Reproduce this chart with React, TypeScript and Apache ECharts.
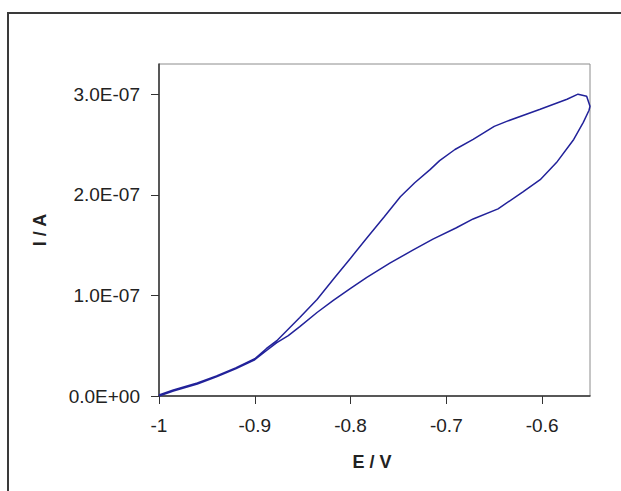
import React, { useEffect, useRef } from "react";
import * as echarts from "echarts";

// Forward sweep (lower branch), potential in V, current in units of 1e-7 A
const forwardE = [-1.0, -0.985, -0.96, -0.94, -0.92, -0.9, -0.888, -0.877, -0.865, -0.853, -0.835, -0.818, -0.8, -0.783, -0.759, -0.735, -0.714, -0.69, -0.672, -0.646, -0.62, -0.602, -0.585, -0.567, -0.557, -0.551, -0.55];
const forwardI = [0.0, 0.05, 0.12, 0.19, 0.27, 0.36, 0.45, 0.53, 0.6, 0.69, 0.83, 0.95, 1.07, 1.18, 1.32, 1.45, 1.56, 1.67, 1.76, 1.86, 2.03, 2.15, 2.32, 2.55, 2.72, 2.84, 2.88];
// Reverse sweep (upper branch)
const reverseE = [-0.5535, -0.5625, -0.574, -0.602, -0.637, -0.65, -0.672, -0.691, -0.707, -0.717, -0.733, -0.748, -0.765, -0.783, -0.8, -0.818, -0.835, -0.853, -0.877, -0.888, -0.9, -0.92, -0.94, -0.96, -0.985, -1.0];
const reverseI = [2.98, 3.0, 2.95, 2.85, 2.73, 2.68, 2.55, 2.45, 2.34, 2.25, 2.12, 1.98, 1.78, 1.57, 1.37, 1.16, 0.96, 0.78, 0.55, 0.47, 0.37, 0.28, 0.2, 0.13, 0.06, 0.01];

const xTicks = [-1, -0.9, -0.8, -0.7, -0.6];
const yTicks = [0, 1e-7, 2e-7, 3e-7];
const xTitle = "E / V";
const yTitle = "I / A";

export default function App() {
  const ref = useRef<HTMLDivElement>(null);
  useEffect(() => {
    if (!ref.current) return;
    const chart = echarts.init(ref.current, null, { renderer: "svg" });
    const data: number[][] = [];
    forwardE.forEach((e, i) => data.push([e, forwardI[i] * 1e-7]));
    reverseE.forEach((e, i) => data.push([e, reverseI[i] * 1e-7]));
    const font = "'Liberation Sans', Arial, sans-serif";
    chart.setOption({
      animation: false,
      backgroundColor: "#ffffff",
      grid: {
        left: 159,
        top: 64,
        width: 431,
        height: 332,
        show: true,
        borderColor: "#8c8c8c",
        borderWidth: 1,
        backgroundColor: "transparent",
      },
      xAxis: {
        type: "value",
        min: -1,
        max: -0.55,
        splitLine: { show: false },
        axisLine: { lineStyle: { color: "#333333", width: 1.5 } },
        axisTick: { show: true, length: 8, inside: false, customValues: xTicks, lineStyle: { color: "#333333" } },
        axisLabel: {
          customValues: xTicks,
          margin: 20,
          color: "#222222",
          fontFamily: font,
          fontSize: 19,
          formatter: (v: number) => String(Math.round(v * 10) / 10),
        },
      },
      yAxis: {
        type: "value",
        min: 0,
        max: 3.3e-7,
        splitLine: { show: false },
        axisLine: { show: true, lineStyle: { color: "#333333", width: 1.5 } },
        axisTick: { show: true, length: 8, inside: false, customValues: yTicks, lineStyle: { color: "#333333" } },
        axisLabel: {
          customValues: yTicks,
          margin: 19,
          color: "#222222",
          fontFamily: font,
          fontSize: 19,
          formatter: (v: number) => {
            const m = Math.round(v / 1e-7);
            return m === 0 ? "0.0E+00" : m.toFixed(1) + "E-07";
          },
        },
      },
      graphic: [
        {
          type: "rect",
          shape: { x: 8, y: 13, width: 700, height: 600 },
          style: { fill: "none", stroke: "#3a3a3a", lineWidth: 2 },
          silent: true,
        },
        {
          type: "text",
          x: 372,
          y: 462,
          style: {
            text: xTitle,
            fontFamily: font,
            fontSize: 18,
            fontWeight: "bold",
            fill: "#222222",
            align: "center",
            verticalAlign: "middle",
          },
        },
        {
          type: "text",
          x: 40,
          y: 230,
          rotation: Math.PI / 2,
          style: {
            text: yTitle,
            fontFamily: font,
            fontSize: 18,
            fontWeight: "bold",
            fill: "#222222",
            align: "center",
            verticalAlign: "middle",
          },
        },
      ],
      series: [
        {
          type: "line",
          data,
          showSymbol: false,
          smooth: false,
          lineStyle: { color: "#22229a", width: 1.5 },
          itemStyle: { color: "#22229a" },
        },
      ],
    });
    return () => chart.dispose();
  }, []);
  return (
    <div
      ref={ref}
      style={{ position: "absolute", left: 0, top: 0, width: 621, height: 491 }}
    />
  );
}
